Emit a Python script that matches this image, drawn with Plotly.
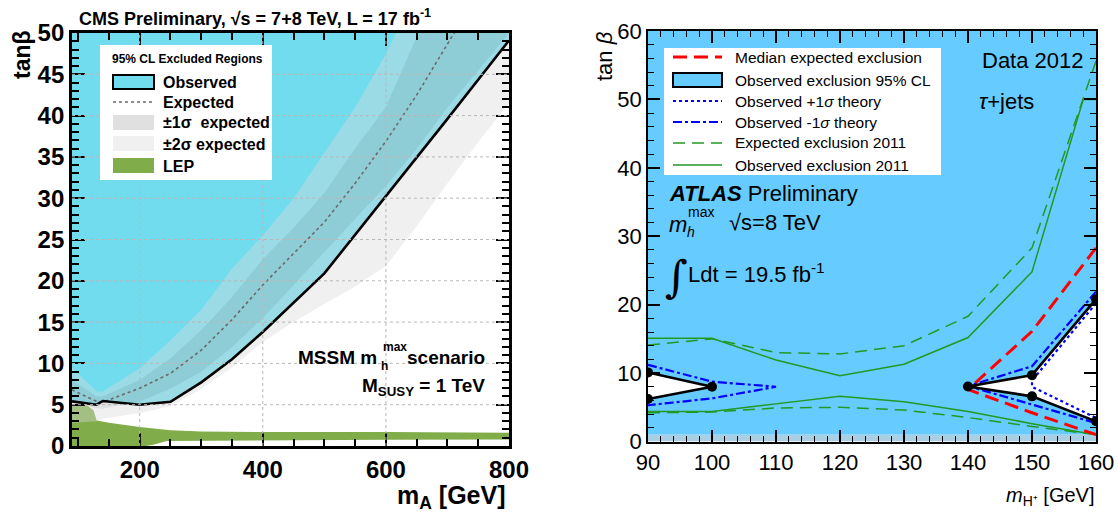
import plotly.graph_objects as go

W, H = 1119, 513
FONT = "Liberation Sans"


def px(x):
    return x / W


def py(y):
    return 1 - y / H


# ---------------- CMS panel data (m_A [GeV], tan beta) ----------------
cms_obs_m = [90, 130, 140, 200, 250, 300, 350, 400, 500, 600, 700, 800]
cms_obs_tb = [5.4, 5.0, 5.45, 5.0, 5.35, 7.7, 10.5, 13.8, 20.9, 30.2, 39.6, 49.1]

cms_band_m = [90, 130, 140, 200, 250, 300, 350, 400, 450, 500, 550, 600, 650, 700, 750, 800]
cms_exp = [6.8, 5.4, 5.3, 7.0, 8.8, 11.6, 15.3, 19.5, 23.3, 27.1, 31.8, 36.9, 42.5, 48.6, 55, 61]
cms_p1 = [8.0, 6.0, 6.0, 8.0, 10.6, 14.0, 18.0, 22.6, 26.4, 30.6, 36.0, 41.0, 49.5, 57, 64, 71]
cms_p2 = [9.5, 6.6, 6.6, 9.4, 12.8, 16.5, 21.5, 25.5, 30.0, 35.5, 41.0, 47.5, 55, 63, 70, 78]
cms_m1 = [5.3, 4.6, 4.5, 5.4, 7.0, 9.0, 12.0, 15.5, 19.5, 23.5, 27.5, 31.5, 36, 41, 45.5, 50]
cms_m2 = [2.8, 3.0, 3.3, 4.0, 4.8, 6.9, 9.5, 12.6, 15.0, 17.2, 19.3, 21.8, 26.6, 31.8, 36.8, 41.5]

lep_up_m = [90, 115, 125, 130, 150, 200, 250, 300, 400, 600, 800]
lep_up_tb = [5.0, 4.9, 4.3, 3.1, 2.8, 2.3, 1.9, 1.75, 1.7, 1.7, 1.6]
lep_lo_m = [90, 210, 222, 244, 300, 600, 800]
lep_lo_tb = [0, 0, 0.15, 0.6, 0.7, 0.75, 0.8]

cms_xrange = [90, 800]
cms_yrange = [0, 50]
cms_grid_x = [200, 400, 600]
cms_grid_y = [5, 10, 15, 20, 25, 30, 35, 40, 45]

# ---------------- ATLAS panel data (m_H+ [GeV], tan beta) ----------------
mh = [90, 100, 110, 120, 130, 140, 150, 160]
obs11_up = [15.1, 15.1, 11.9, 9.6, 11.3, 15.2, 24.8, 50.0]
obs11_lo = [4.4, 4.4, 5.5, 6.6, 5.8, 4.4, 2.6, 1.0]
exp11_up = [14.1, 15.0, 13.0, 12.8, 14.0, 18.3, 28.3, 55.6]
exp11_lo = [4.2, 4.3, 4.9, 5.0, 4.6, 3.5, 2.2, 1.0]
obs11_top_m = [158, 160]
obs11_top_tb = [50.0, 50.0]

obs_left_m = [90, 100, 90]
obs_left_tb = [10.1, 8.0, 6.2]
obs_right_m = [160, 150, 140, 150, 160]
obs_right_tb = [20.8, 9.7, 8.05, 6.6, 2.95]

m1sig_left_m = [90, 100, 110, 100, 90]
m1sig_left_tb = [11.2, 8.75, 8.0, 6.3, 5.3]
m1sig_right_m = [160, 150, 140, 150, 160]
m1sig_right_tb = [21.9, 11.0, 8.1, 5.4, 2.7]

p1sig_right_m = [160, 150, 150, 160]
p1sig_right_tb = [20.2, 8.9, 8.0, 3.45]

med_exp_m = [160, 150, 140, 150, 160]
med_exp_tb = [28.3, 16.1, 7.6, 4.2, 1.0]

atl_xrange = [90, 160]
atl_yrange = [0, 60]
atl_excl_tb = [1, 60]      # observed exclusion covers tan beta 1..60
atl_low_tb = [0, 1]

# ---------------- colours ----------------
CYAN = "rgb(112,220,237)"
LEPG = "rgb(128,173,74)"
BAND2 = "rgba(217,217,217,0.40)"
BAND1 = "rgba(182,182,182,0.43)"
ABLUE = "#66ccff"
ALOW = "#a9cfe4"
GREEN = "#229922"

fig = go.Figure()


def poly(xs, ys, color, xa, ya):
    fig.add_trace(go.Scatter(x=xs, y=ys, fill="toself", fillcolor=color, mode="lines",
                             line=dict(width=0, color=color), hoverinfo="skip",
                             showlegend=False, xaxis=xa, yaxis=ya))


def line(xs, ys, color, width, dash, xa, ya, mode="lines", msize=0):
    fig.add_trace(go.Scatter(x=xs, y=ys, mode=mode, line=dict(color=color, width=width, dash=dash),
                             marker=dict(size=msize, color=color), hoverinfo="skip",
                             showlegend=False, xaxis=xa, yaxis=ya))


# ---- CMS traces ----
top = cms_yrange[1] + 10
poly(cms_obs_m + [cms_obs_m[-1], cms_obs_m[0]], cms_obs_tb + [top, top], CYAN, "x", "y")
poly(lep_up_m + lep_lo_m[::-1], lep_up_tb + lep_lo_tb[::-1], LEPG, "x", "y")
rev = cms_band_m[::-1]
poly(cms_band_m + rev, cms_p2 + cms_p1[::-1], BAND2, "x", "y")
poly(cms_band_m + rev, cms_m1 + cms_m2[::-1], BAND2, "x", "y")
poly(cms_band_m + rev, cms_p1 + cms_m1[::-1], BAND1, "x", "y")
line(cms_band_m, cms_exp, "#6a6a6a", 1.6, "dot", "x", "y")
line(cms_obs_m, cms_obs_tb, "black", 2.6, "solid", "x", "y")

# ---- ATLAS traces ----
poly([atl_xrange[0], atl_xrange[1], atl_xrange[1], atl_xrange[0]],
     [atl_excl_tb[0], atl_excl_tb[0], atl_excl_tb[1], atl_excl_tb[1]], ABLUE, "x2", "y2")
poly([atl_xrange[0], atl_xrange[1], atl_xrange[1], atl_xrange[0]],
     [atl_low_tb[0], atl_low_tb[0], atl_low_tb[1], atl_low_tb[1]], ALOW, "x2", "y2")
poly(obs_left_m, obs_left_tb, "white", "x2", "y2")
poly(obs_right_m, obs_right_tb, "white", "x2", "y2")
line(mh, exp11_up, GREEN, 1.5, "12px,7px", "x2", "y2")
line(mh, exp11_lo, GREEN, 1.5, "12px,7px", "x2", "y2")
line(mh[:-1] + obs11_top_m, obs11_up[:-1] + obs11_top_tb, GREEN, 1.5, "solid", "x2", "y2")
line(mh, obs11_lo, GREEN, 1.5, "solid", "x2", "y2")
line(m1sig_left_m, m1sig_left_tb, "#0000ff", 2.2, "dashdot", "x2", "y2")
line(m1sig_right_m, m1sig_right_tb, "#0000ff", 2.2, "dashdot", "x2", "y2")
line(p1sig_right_m, p1sig_right_tb, "#0000ff", 2.2, "dot", "x2", "y2")
line(med_exp_m, med_exp_tb, "#ff0000", 3, "14px,7px", "x2", "y2")
line(obs_left_m, obs_left_tb, "black", 2.6, "solid", "x2", "y2", mode="lines+markers", msize=10)
line(obs_right_m, obs_right_tb, "black", 2.6, "solid", "x2", "y2", mode="lines+markers", msize=10)


# ---- axes ----
def axis_common(bold, size, lw):
    return dict(showline=True, linecolor="black", linewidth=lw, mirror="ticks",
                ticks="inside", tickcolor="black", showgrid=False, zeroline=False,
                automargin=False,
                tickfont=dict(family=FONT, size=size, color="black",
                              weight="bold" if bold else "normal"),
                layer="above traces")


xa = axis_common(True, 24, 2.8)
xa.update(domain=[px(72), px(509)], range=cms_xrange, tick0=0, dtick=200, ticklen=13, tickwidth=2.2,
          minor=dict(ticks="inside", dtick=50, ticklen=7, tickwidth=2.2, tickcolor="black", showgrid=False),
          anchor="y")
ya = axis_common(True, 24, 2.8)
ya.update(domain=[py(446), py(33)], range=cms_yrange, tick0=0, dtick=5, ticklen=13, tickwidth=2.2,
          minor=dict(ticks="inside", dtick=1, ticklen=7, tickwidth=2.2, tickcolor="black", showgrid=False),
          anchor="x")
xa2 = axis_common(False, 22, 1.6)
xa2.update(domain=[px(648), px(1096)], range=atl_xrange, tick0=0, dtick=10, ticklen=12, tickwidth=1.5,
           minor=dict(ticks="inside", dtick=2, ticklen=6, tickwidth=1.2, tickcolor="black", showgrid=False),
           anchor="y2")
ya2 = axis_common(False, 22, 1.6)
ya2.update(domain=[py(441.5), py(31)], range=atl_yrange, tick0=0, dtick=10, ticklen=12, tickwidth=1.5,
           minor=dict(ticks="inside", dtick=2, ticklen=6, tickwidth=1.2, tickcolor="black", showgrid=False),
           anchor="x2")

fig.update_layout(width=W, height=H, margin=dict(l=0, r=0, t=0, b=0, autoexpand=False),
                  paper_bgcolor="white", plot_bgcolor="white", showlegend=False,
                  xaxis=xa, yaxis=ya, xaxis2=xa2, yaxis2=ya2)

shapes = []
# CMS grid (dotted, drawn above fills)
for gx in cms_grid_x:
    shapes.append(dict(type="line", xref="x", yref="y", x0=gx, x1=gx, y0=cms_yrange[0], y1=cms_yrange[1],
                       line=dict(color="#b8b8b8", width=1, dash="dot"), layer="above"))
for gy in cms_grid_y:
    shapes.append(dict(type="line", xref="x", yref="y", x0=cms_xrange[0], x1=cms_xrange[1], y0=gy, y1=gy,
                       line=dict(color="#b8b8b8", width=1, dash="dot"), layer="above"))


def prect(x0, y0, x1, y1, fill, lc=None, lw=0):
    shapes.append(dict(type="rect", xref="paper", yref="paper", x0=px(x0), x1=px(x1), y0=py(y1), y1=py(y0),
                       fillcolor=fill, line=dict(color=lc or fill, width=lw), layer="above"))


def pline(x0, x1, y, color, width, dash):
    shapes.append(dict(type="line", xref="paper", yref="paper", x0=px(x0), x1=px(x1), y0=py(y), y1=py(y),
                       line=dict(color=color, width=width, dash=dash), layer="above"))


# CMS legend
prect(100, 45, 272, 180, "white")
prect(113, 75, 154, 89, CYAN, "black", 2)
pline(113, 154, 102, "#6a6a6a", 1.6, "dot")
prect(113, 115, 154, 130, "#e0e0e0")
prect(113, 136, 154, 151, "#f0f0f0")
prect(113, 158, 154, 173, LEPG)

# ATLAS legend
prect(664, 48, 941, 175, "white")
pline(673, 722, 57, "#ff0000", 3, "14px,7px")
prect(673, 73, 722, 87, ABLUE, "black", 2)
pline(673, 722, 101, "#0000ff", 2.2, "dot")
pline(673, 722, 122, "#0000ff", 2.2, "dashdot")
pline(673, 722, 143, GREEN, 1.5, "12px,7px")
pline(673, 722, 165, GREEN, 1.5, "solid")

fig.update_layout(shapes=shapes)


def txt(x, y, s, size, xanchor="left", bold=False, italic=False, angle=0, family=FONT):
    fig.add_annotation(x=px(x), y=py(y), xref="paper", yref="paper", text=s, showarrow=False,
                       xanchor=xanchor, yanchor="middle", textangle=angle,
                       font=dict(family=family, size=size, color="black",
                                 weight="bold" if bold else "normal",
                                 style="italic" if italic else "normal"))


# CMS texts
txt(77, 17, "CMS Preliminary, √s = 7+8 TeV, L = 17 fb<sup>-1</sup>", 18, bold=True)
txt(22, 55, "tanβ", 23, xanchor="center", bold=True, angle=-90)
txt(508, 497, "m<sub>A</sub> [GeV]", 25, xanchor="right", bold=True)
txt(110, 59, "95% CL Excluded Regions", 12, bold=True)
txt(161, 82, "Observed", 16, bold=True)
txt(161, 102, "Expected", 16, bold=True)
txt(161, 123, "±1σ  expected", 16, bold=True)
txt(161, 144, "±2σ expected", 16, bold=True)
txt(161, 166, "LEP", 16, bold=True)
txt(379, 357, "MSSM m", 19, xanchor="right", bold=True)
txt(381, 347, "max", 12, bold=True)
txt(379, 366, "h", 12, bold=True)
txt(487, 357, "scenario", 19, xanchor="right", bold=True)
txt(487, 387, "M<sub>SUSY</sub> = 1 TeV", 19, xanchor="right", bold=True)

# ATLAS texts
txt(604, 56, "tan <i>β</i>", 22, xanchor="center", angle=-90)
txt(1097, 496, "<i>m</i><sub>H⁺</sub> [GeV]", 20, xanchor="right")
legend_labels = ["Median expected exclusion", "Observed exclusion 95% CL", "Observed +1<i>σ</i> theory",
                 "Observed -1<i>σ</i> theory", "Expected exclusion 2011", "Observed exclusion 2011"]
for lab, yy in zip(legend_labels, [57, 80, 101, 122, 143, 165]):
    txt(733, yy, lab, 15.5)
txt(1086, 60, "Data 2012", 22, xanchor="right")
txt(977, 101, "<i>τ</i>+jets", 22)
txt(667, 193, "<b><i>ATLAS</i></b> Preliminary", 22)
txt(667, 224, "<i>m</i>", 22)
txt(686, 212, "max", 14)
txt(685, 232, "<i>h</i>", 14)
txt(727, 222, "√s=8 TeV", 22)
txt(663, 276, "∫", 44, family="DejaVu Serif")
txt(686, 273, "Ldt = 19.5 fb<sup>-1</sup>", 22)

fig.write_html("out.html")
